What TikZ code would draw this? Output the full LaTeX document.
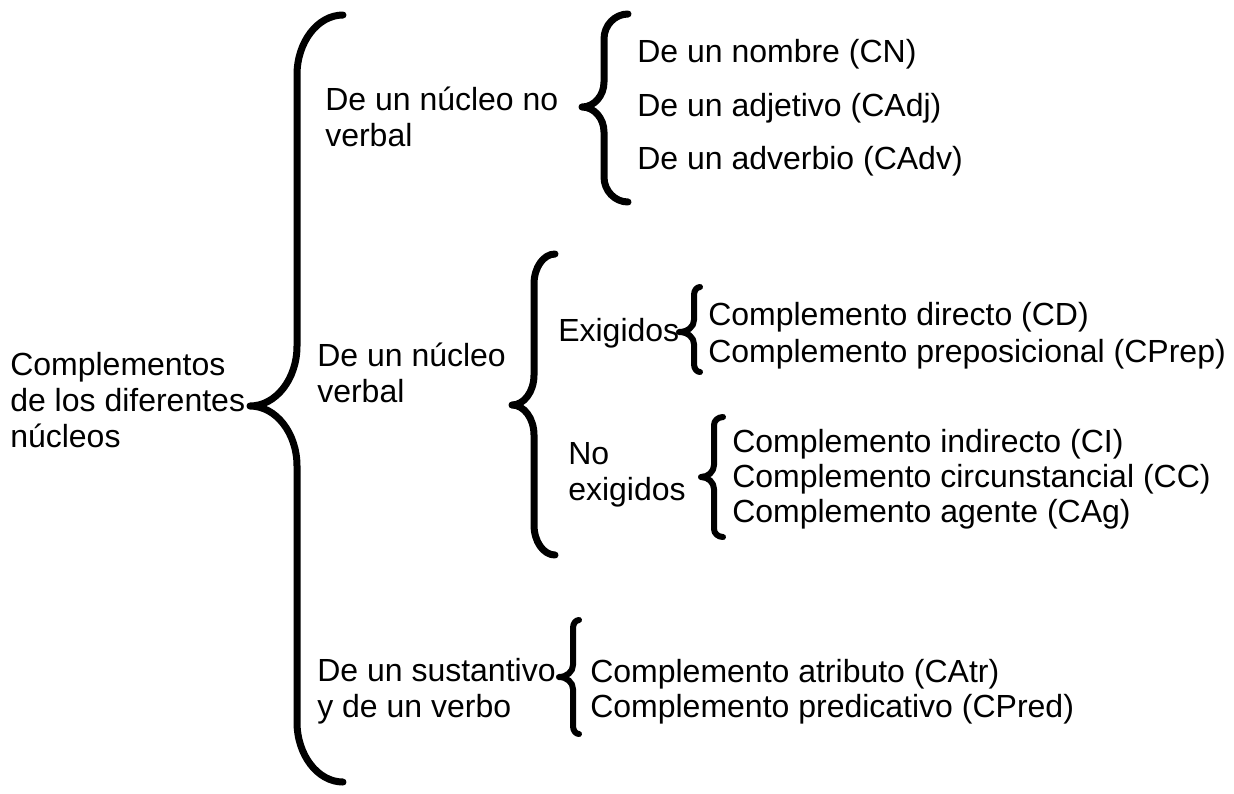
\documentclass[tikz,border=0pt]{standalone}
\usepackage{fontspec}
\setmainfont{Liberation Sans}
\tikzset{
  lbl/.style={inner sep=0pt, font=\fontsize{24}{27}\selectfont},
  shade brace/.style={preaction={draw=black!18, transform canvas={xshift=1pt,yshift=-2pt}}},
  bigbrace/.style={line width=5.25pt, line cap=round, line join=round, shade brace},
  smallbrace/.style={line width=4.5pt, line cap=round, line join=round, shade brace}
}
\begin{document}
\begin{tikzpicture}[x=0.75pt,y=0.75pt,yscale=-1,xscale=1]
\useasboundingbox (0,0) rectangle (1234,793);
% braces
\draw [bigbrace] (343,15) .. controls (317.7,15) and (297,42) .. (297,75) -- (297,346) .. controls (297,379) and (275.9,406) .. (250,406) .. controls (275.9,406) and (297,433) .. (297,466) -- (297,722) .. controls (297,755) and (317.7,782) .. (343,782) ;
\draw [bigbrace] (628,14) .. controls (614.8,14) and (604,25.25) .. (604,39) -- (604,82) .. controls (604,95.75) and (594.1,107) .. (582,107) .. controls (594.1,107) and (604,118.25) .. (604,132) -- (604,177) .. controls (604,190.75) and (614.8,202) .. (628,202) ;
\draw [bigbrace] (555,254) .. controls (543.45,254) and (534,267.5) .. (534,284) -- (534,375) .. controls (534,391.5) and (524.1,405) .. (512,405) .. controls (524.1,405) and (534,418.5) .. (534,435) -- (534,525) .. controls (534,541.5) and (543.45,555) .. (555,555) ;
\draw [smallbrace] (700,287) .. controls (696.7,287) and (694,290.6) .. (694,295) -- (694,320) .. controls (694,326.6) and (687.75,332) .. (679,332) .. controls (687.75,332) and (694,337.4) .. (694,344) -- (694,364) .. controls (694,368.4) and (696.7,372) .. (700,372) ;
\draw [smallbrace] (723,417) .. controls (718.05,417) and (714,420.6) .. (714,425) -- (714,465) .. controls (714,471.6) and (708.15,477) .. (701,477) .. controls (708.15,477) and (714,482.4) .. (714,489) -- (714,529) .. controls (714,533.4) and (718.05,537) .. (723,537) ;
\draw [smallbrace] (579,620) .. controls (575.7,620) and (573,623.6) .. (573,628) -- (573,665) .. controls (573,671.6) and (566.7,677) .. (559,677) .. controls (566.7,677) and (573,682.4) .. (573,689) -- (573,726) .. controls (573,730.4) and (575.7,734) .. (579,734) ;
% left labels
\node (root) [lbl, anchor=west, align=left] at (10,400) {Complementos\\de los diferentes\\núcleos};
\node (noverbal) [lbl, anchor=west, align=left] at (325,117) {De un núcleo no\\verbal};
\node (verbal) [lbl, anchor=west, align=left] at (317,373) {De un núcleo\\verbal};
\node (sustverbo) [lbl, anchor=west, align=left] at (317,691) {De un sustantivo\\y de un verbo};
\node (exig) [lbl, anchor=base west] at (558,341) {Exigidos};
\node (noexig) [lbl, anchor=west, align=left] at (568,475) {No\\exigidos};
% right items
\node (cn) [lbl, anchor=base west] at (637,62) {De un nombre (CN)};
\node (cadj) [lbl, anchor=base west] at (637,116) {De un adjetivo (CAdj)};
\node (cadv) [lbl, anchor=base west] at (637,169) {De un adverbio (CAdv)};
\node (cd) [lbl, anchor=base west] at (708,325) {Complemento directo (CD)};
\node (cprep) [lbl, anchor=base west] at (708,362) {Complemento preposicional (CPrep)};
\node (ci) [lbl, anchor=base west] at (732,452) {Complemento indirecto (CI)};
\node (cc) [lbl, anchor=base west] at (732,487) {Complemento circunstancial (CC)};
\node (cag) [lbl, anchor=base west] at (732,522) {Complemento agente (CAg)};
\node (catr) [lbl, anchor=base west] at (590,682) {Complemento atributo (CAtr)};
\node (cpred) [lbl, anchor=base west] at (590,717) {Complemento predicativo (CPred)};
\end{tikzpicture}
\end{document}
